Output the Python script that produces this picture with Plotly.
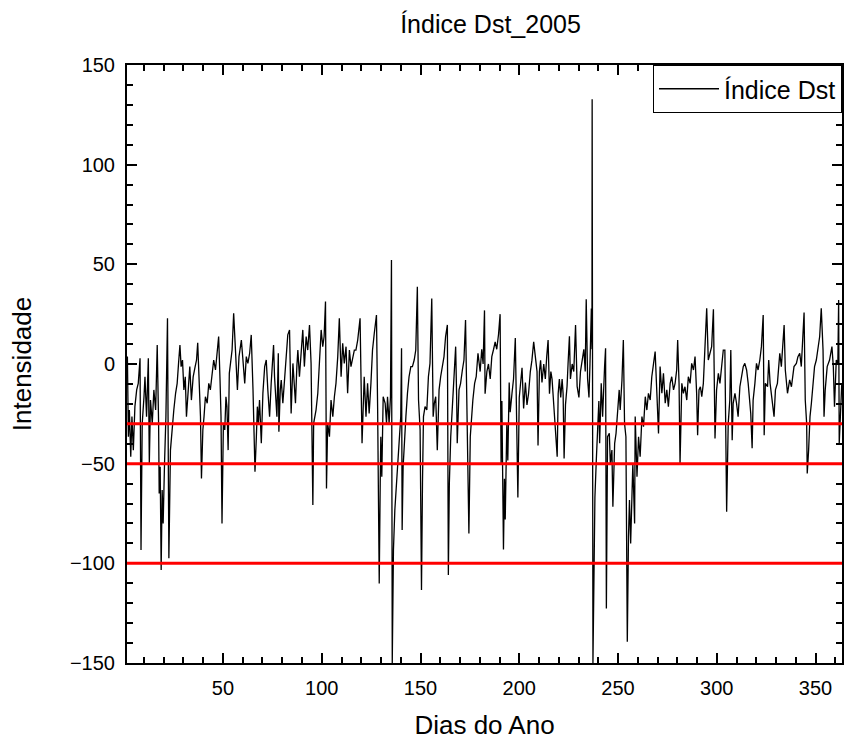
import plotly.graph_objects as go

# Day of year (fractional) and Dst values
dias = [1.6, 2.1, 2.6, 3.3, 3.9, 4.6, 5.4, 6.3, 7.1, 8.0, 8.5, 9.1, 10.0, 10.5, 11.3, 12.2, 12.7, 13.3, 14.2, 15.0,
        15.9, 16.7, 17.4, 17.7, 18.2, 18.7, 19.2, 19.7, 20.4, 21.1, 21.9, 22.6, 23.4, 24.3, 25.1, 26.0, 26.8, 27.5, 28.2, 28.8,
        29.5, 30.2, 30.9, 31.5, 32.4, 33.2, 34.0, 34.9, 35.9, 36.6, 37.2, 37.9, 38.6, 39.1, 39.8, 40.4, 41.1, 42.0, 42.8, 43.6,
        44.5, 45.3, 46.2, 47.0, 47.8, 48.5, 49.0, 49.5, 50.2, 50.9, 51.5, 52.0, 52.6, 53.2, 53.9, 54.6, 55.4, 56.1, 56.8, 57.3,
        58.1, 59.3, 60.1, 61.0, 61.8, 62.6, 63.5, 64.3, 65.2, 65.7, 66.2, 66.9, 67.4, 67.9, 68.5, 69.4, 70.2, 71.1, 71.9, 72.7,
        73.6, 74.4, 74.9, 75.6, 76.1, 76.6, 77.3, 78.0, 78.3, 79.0, 79.5, 80.3, 81.2, 82.0, 82.8, 83.7, 84.5, 85.4, 86.0, 86.7,
        87.4, 87.9, 88.7, 89.6, 90.4, 91.2, 92.1, 92.9, 93.8, 94.6, 95.1, 95.5, 95.9, 96.6, 97.1, 98.0, 98.8, 99.7, 100.5, 101.2,
        101.9, 102.4, 103.0, 103.9, 104.7, 105.6, 106.4, 107.2, 108.1, 108.9, 109.8, 110.6, 111.4, 112.3, 113.1, 114.0, 114.8, 115.7, 116.5, 117.3,
        118.2, 119.4, 119.9, 120.4, 121.5, 122.4, 123.2, 124.0, 124.9, 125.7, 126.6, 127.7, 128.3, 128.8, 129.1, 129.6, 129.9, 130.4, 131.1, 132.1,
        132.8, 133.3, 134.1, 134.8, 135.3, 135.7, 136.3, 137.0, 137.8, 138.7, 139.4, 140.0, 140.4, 140.7, 141.2, 141.9, 142.6, 143.4, 144.2, 145.1,
        145.9, 146.8, 147.6, 148.4, 149.0, 149.8, 150.5, 151.0, 151.5, 152.3, 153.2, 154.0, 154.8, 155.7, 156.4, 157.0, 157.7, 158.5, 159.4, 160.2,
        161.1, 161.9, 162.7, 163.6, 164.1, 164.6, 165.3, 166.1, 167.0, 167.8, 168.3, 168.6, 169.5, 170.3, 171.2, 172.0, 172.8, 173.4, 173.9, 174.5,
        175.2, 175.9, 176.5, 177.4, 178.2, 179.1, 180.2, 181.0, 181.7, 182.4, 182.7, 183.6, 184.4, 185.3, 186.1, 187.0, 187.8, 188.6, 189.5, 190.3,
        190.8, 191.2, 191.5, 192.0, 192.5, 192.9, 193.7, 194.2, 194.9, 195.4, 196.3, 197.1, 198.0, 198.5, 199.3, 200.0, 200.7, 201.4, 202.2, 203.1,
        203.9, 204.7, 205.6, 206.4, 207.3, 208.1, 209.0, 209.5, 210.2, 210.8, 211.5, 212.4, 213.2, 213.9, 214.6, 215.3, 216.0, 216.6, 217.5, 218.3,
        219.2, 219.7, 220.3, 221.0, 221.7, 222.2, 222.7, 223.4, 224.2, 224.7, 225.4, 225.9, 226.8, 227.6, 228.5, 229.3, 230.2, 231.0, 231.9, 232.7,
        233.4, 233.9, 234.6, 235.3, 235.8, 236.5, 236.8, 236.9, 237.3, 237.8, 238.3, 239.0, 239.5, 240.3, 240.7, 241.5, 242.2, 242.7, 243.2, 243.7,
        244.1, 244.7, 245.6, 246.1, 246.9, 247.4, 248.3, 249.0, 250.0, 250.6, 251.1, 252.0, 252.7, 253.3, 254.0, 254.7, 255.3, 255.8, 256.4, 257.0,
        257.5, 258.4, 258.7, 259.6, 260.4, 261.2, 262.1, 262.9, 263.8, 264.6, 265.4, 266.3, 267.1, 268.0, 268.8, 269.6, 270.5, 271.3, 272.2, 273.0,
        273.9, 274.7, 275.5, 276.4, 277.2, 278.1, 278.9, 279.7, 280.2, 280.9, 281.4, 282.3, 283.1, 283.9, 284.8, 285.6, 286.5, 287.3, 288.2, 289.0,
        289.8, 290.3, 291.0, 291.7, 292.4, 293.2, 294.0, 294.9, 295.7, 296.6, 297.4, 298.3, 298.8, 299.1, 299.9, 300.8, 301.6, 302.5, 303.3, 304.1,
        304.5, 305.0, 305.8, 306.6, 307.1, 307.8, 308.3, 309.2, 310.0, 310.8, 311.7, 312.5, 313.4, 314.2, 315.1, 315.9, 316.7, 317.2, 317.9, 318.4,
        319.3, 320.1, 320.9, 321.8, 322.6, 323.5, 324.0, 324.6, 325.7, 326.3, 327.0, 328.0, 329.0, 329.7, 330.7, 331.9, 332.7, 334.1, 334.7, 335.8,
        336.9, 337.8, 339.1, 340.3, 341.1, 342.0, 342.8, 344.2, 344.8, 345.5, 345.8, 346.5, 347.2, 347.9, 348.7, 349.5, 350.4, 351.2, 352.1, 352.9,
        353.8, 354.3, 354.9, 355.9, 357.1, 358.3, 359.0, 359.6, 360.5, 361.3, 361.7, 362.0, 362.7, 363.3]

dst = [3.7, -36.5, -23.1, -46.5, -26.4, -43.2, -21.4, -13.0, -9.7, 2.9, -93.3, -29.8, -16.4, -6.4, -26.4, 2.9, -49.9, -18.1, -29.8, -13.0,
       -23.1, 9.5, -29.8, -64.9, -51.6, -103.4, -63.2, -80.0, -49.9, -26.4, 22.9, -97.5, -43.2, -29.8, -23.1, -14.7, -9.7, 0.3, 9.5, -1.3,
       2.0, -13.0, -6.4, -26.4, -9.7, -1.3, -18.1, -6.4, -1.3, 2.0, 10.7, -9.7, -26.4, -57.4, -33.1, -26.4, -16.4, -19.7, -9.7, -13.0,
       -3.0, 2.0, -3.0, 7.0, 13.8, -8.0, -26.4, -80.0, -29.8, -33.1, -16.4, -21.4, -43.2, -4.7, 2.0, 7.0, 25.4, 12.0, 2.0, -13.0,
       3.7, 12.0, 2.0, -9.7, 3.7, 0.3, 5.4, 14.6, -13.0, -29.8, -54.1, -36.5, -21.4, -29.8, -18.1, -39.8, -14.7, -1.3, 2.0, -13.0,
       -26.4, -9.7, 0.3, 9.5, -6.4, -18.1, -26.4, 5.4, -34.0, -13.0, -8.0, -19.7, -6.4, 3.7, 14.6, 17.1, -24.8, 0.3, -9.7, -19.7,
       -1.3, 7.0, -6.4, 7.0, 17.1, -1.3, 13.8, 7.0, 19.6, 0.3, -31.4, -70.7, -29.8, -26.4, -23.1, -14.7, -1.3, 17.1, 8.7, 13.8,
       31.3, -62.4, -29.8, -36.5, -18.1, -26.4, -16.4, -9.7, 3.7, 22.9, -6.4, 10.4, 0.3, 8.7, -14.7, 7.0, -1.3, 3.7, 7.0, 7.0,
       12.0, 22.9, -6.4, -39.8, -6.4, -26.4, -9.7, -24.8, -9.7, 7.0, 15.4, 24.6, -23.1, -85.0, -110.1, -59.9, -36.5, -56.6, -16.4, -19.7,
       -29.8, -16.4, -29.8, -16.4, 52.2, -150.0, -93.3, -73.3, -59.9, -46.5, -33.1, -26.4, 7.9, -83.3, -51.6, -36.5, -26.4, -14.7, -6.4, -1.3,
       -1.3, 2.0, 7.0, 38.8, -18.1, -33.1, -113.4, -59.9, -26.4, -21.4, -23.1, -6.4, 0.3, 32.9, -26.4, -19.7, -16.4, -43.2, -13.0, -6.4,
       -1.3, 3.7, 13.8, 19.6, -105.9, -59.9, -36.5, -23.1, -8.0, 8.7, -16.4, -39.8, -13.0, -9.7, -3.0, 2.0, 22.1, -13.0, -36.5, -85.0,
       -36.5, -23.1, -18.1, -9.7, -6.4, 5.4, -3.8, 7.4, 0.0, 26.9, -14.9, -3.8, 0.0, -7.5, 3.7, 7.4, 11.1, 7.4, 14.8, 25.0,
       -50.2, -18.6, -55.8, -93.0, -57.6, -78.0, -29.8, -48.4, -9.3, -24.2, -14.9, -7.5, 13.0, -26.0, -67.0, -16.8, -7.5, -1.9, -22.3, -9.3,
       -20.5, -14.9, -3.8, 1.8, 11.1, 3.7, -3.8, -40.9, -3.8, 1.8, -9.3, 0.0, -7.5, 3.7, 12.0, -14.9, -3.8, -7.5, -20.5, -29.8,
       -46.5, -14.9, -7.5, -16.8, -7.5, -14.9, -47.4, -20.5, -11.2, 0.0, 13.9, -7.5, 0.0, -3.8, 19.5, -11.2, -16.8, -3.8, 3.7, 7.4,
       -3.8, 32.5, -7.5, -16.8, 0.0, 27.8, 7.4, 132.8, -150.0, -104.0, -67.0, -48.4, -39.1, -18.6, -39.8, -9.7, -26.4, -9.7, -1.3, 7.9,
       -122.6, -36.5, -34.8, -49.9, -43.2, -71.6, -39.8, -34.8, -18.1, -13.0, -23.1, -8.0, 12.0, -29.8, -36.5, -139.3, -86.6, -68.2, -90.0, -73.3,
       -49.9, -80.0, -26.4, -56.6, -36.5, -46.5, -26.4, -31.4, -16.4, -23.1, -14.7, -18.1, -6.4, 0.3, 6.2, -13.0, -34.8, -1.3, -14.7, -4.7,
       -19.7, -13.0, -21.4, -9.7, -6.4, -13.0, -9.7, -3.0, 12.0, -9.7, -49.9, -9.7, -14.7, -11.4, -18.1, -6.4, -9.7, 0.3, -3.0, 3.7,
       -14.7, -35.7, -13.0, -11.4, -16.4, -9.7, 7.0, 27.9, 2.0, 5.4, 8.7, 27.4, -9.7, -37.4, -13.0, -4.7, -9.7, 0.3, 7.0, 7.0,
       -36.5, -74.1, -29.8, -18.1, 7.0, -38.2, -19.7, -14.7, -19.7, -26.4, -11.4, -6.4, -1.3, 0.3, -3.0, -9.7, -18.1, -24.8, -42.3, -18.1,
       -9.7, 0.3, -3.0, 2.0, 8.7, 24.6, -35.7, -9.7, -11.4, 2.0, -9.7, -18.1, -26.4, -13.0, -9.7, 5.4, -1.3, 19.6, -3.0, -14.7,
       -8.0, -11.4, -1.3, 0.3, 3.7, 5.4, -1.3, 25.8, -18.1, -29.8, -54.9, -43.2, -26.4, -19.7, -9.7, -1.3, 2.0, 8.7, 13.8, 27.9,
       7.0, -26.4, -13.0, -1.3, 2.0, 8.7, -1.3, -21.4, 2.0, 0.3, 32.1, -39.8, -23.1, -9.7]

limiares = [-30, -50, -100]
x_ticks = [50, 100, 150, 200, 250, 300, 350]
y_ticks = [-150, -100, -50, 0, 50, 100, 150]

FONT = "Liberation Sans, Arial, sans-serif"

fig = go.Figure()
fig.add_trace(go.Scatter(x=dias, y=dst, mode="lines", name="Índice Dst",
                         line=dict(color="black", width=1.3)))

for v in limiares:
    fig.add_shape(type="line", xref="paper", x0=0, x1=1, yref="y", y0=v, y1=v,
                  line=dict(color="#ff0000", width=3), layer="above")

axis_common = dict(showline=True, linecolor="black", linewidth=2, mirror="ticks",
                   ticks="inside", ticklen=10, tickwidth=2, tickcolor="black",
                   showgrid=False, zeroline=False,
                   tickfont=dict(family=FONT, size=20, color="black"))

fig.update_xaxes(range=[1.4, 363.4], tickvals=x_ticks,
                 minor=dict(dtick=10, tick0=0, ticks="inside", ticklen=6, tickwidth=1.5, tickcolor="black"),
                 title=dict(text="Dias do Ano", font=dict(family=FONT, size=26, color="black"), standoff=18),
                 ticklabelstandoff=6,
                 **axis_common)
fig.update_yaxes(range=[-150, 150], tickvals=y_ticks,
                 minor=dict(dtick=10, tick0=0, ticks="inside", ticklen=6, tickwidth=1.5, tickcolor="black"),
                 title=dict(text="Intensidade", font=dict(family=FONT, size=26, color="black"), standoff=31),
                 ticklabelstandoff=6,
                 **axis_common)

fig.update_layout(
    width=845, height=747,
    margin=dict(l=127, r=1, t=65, b=84),
    paper_bgcolor="white", plot_bgcolor="white",
    title=dict(text="Índice Dst_2005", xref="container", x=0.5805, xanchor="center",
               yref="container", y=0.967, yanchor="middle",
               font=dict(family=FONT, size=25, color="black")),
    showlegend=True,
    legend=dict(x=1.0, xanchor="right", y=1.0, yanchor="top", bgcolor="white",
                bordercolor="black", borderwidth=1, itemwidth=60,
                font=dict(family=FONT, size=25, color="black")),
)

fig.write_html("out.html")
